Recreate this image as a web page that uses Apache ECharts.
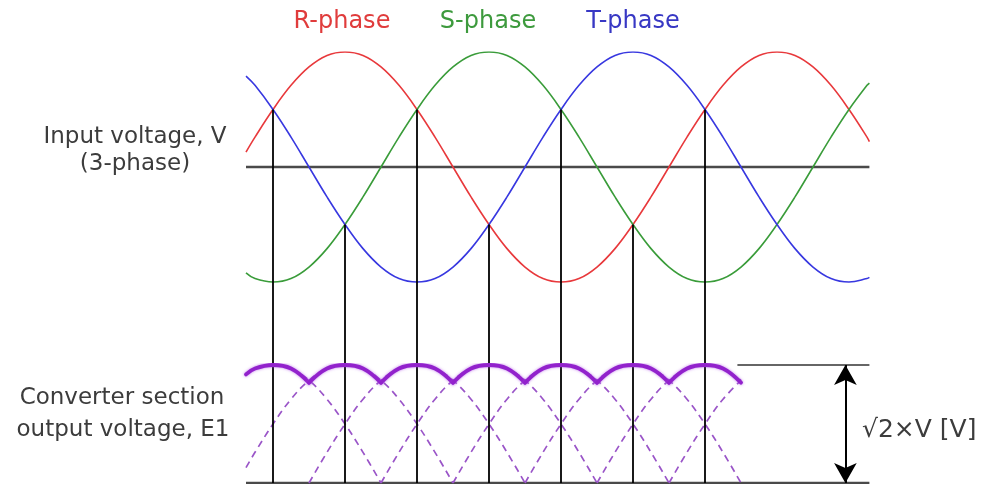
<!DOCTYPE html>
<html>
<head>
<meta charset="utf-8">
<script src="https://cdn.jsdelivr.net/npm/echarts@6/dist/echarts.min.js"></script>
<style>
html,body{margin:0;padding:0;background:#fff;}
#c{width:990px;height:484px;}
</style>
</head>
<body>
<div id="c"></div>
<script>
// ---- Input voltages (electrical degrees, normalised amplitude) ----
const phaseDeg = [7.5,15,30,45,60,75,90,105,120,135,150,165,180,195,210,225,240,255,270,285,300,315,330,345,360,375,390,405,420,435,450,465,480,495,510,525,527];
const rPhase = [0.13,0.26,0.50,0.71,0.87,0.97,1.00,0.97,0.87,0.71,0.50,0.26,0.00,-0.26,-0.50,-0.71,-0.87,-0.97,-1.00,-0.97,-0.87,-0.71,-0.50,-0.26,0.00,0.26,0.50,0.71,0.87,0.97,1.00,0.97,0.87,0.71,0.50,0.26,0.22];
const sPhase = [-0.92,-0.97,-1.00,-0.97,-0.87,-0.71,-0.50,-0.26,0.00,0.26,0.50,0.71,0.87,0.97,1.00,0.97,0.87,0.71,0.50,0.26,0.00,-0.26,-0.50,-0.71,-0.87,-0.97,-1.00,-0.97,-0.87,-0.71,-0.50,-0.26,0.00,0.26,0.50,0.71,0.73];
const tPhase = [0.79,0.71,0.50,0.26,0.00,-0.26,-0.50,-0.71,-0.87,-0.97,-1.00,-0.97,-0.87,-0.71,-0.50,-0.26,0.00,0.26,0.50,0.71,0.87,0.97,1.00,0.97,0.87,0.71,0.50,0.26,0.00,-0.26,-0.50,-0.71,-0.87,-0.97,-1.00,-0.97,-0.96];

// phase crossing points (degrees, level) -> vertical guide lines
const crossDeg = [30,90,150,210,270,330,390];
const crossLevel = [0.5,-0.5,0.5,-0.5,0.5,-0.5,0.5];

// ---- Converter output (rectified) ----
const outDeg = [7.5,15,30,45,60,75,90,105,120,135,150,165,180,195,210,225,240,255,270,285,300,315,330,345,360,375,390,405,420];
const arch1 = [0.92,0.97,1.00,0.97,0.87,0.71,0.50,0.26,0.00,null,null,null,null,null,null,null,null,null,null,null,null,null,null,null,null,null,null,null,null];
const arch2 = [0.13,0.26,0.50,0.71,0.87,0.97,1.00,0.97,0.87,0.71,0.50,0.26,0.00,null,null,null,null,null,null,null,null,null,null,null,null,null,null,null,null];
const arch3 = [null,null,null,null,0.00,0.26,0.50,0.71,0.87,0.97,1.00,0.97,0.87,0.71,0.50,0.26,0.00,null,null,null,null,null,null,null,null,null,null,null,null];
const arch4 = [null,null,null,null,null,null,null,null,0.00,0.26,0.50,0.71,0.87,0.97,1.00,0.97,0.87,0.71,0.50,0.26,0.00,null,null,null,null,null,null,null,null];
const arch5 = [null,null,null,null,null,null,null,null,null,null,null,null,0.00,0.26,0.50,0.71,0.87,0.97,1.00,0.97,0.87,0.71,0.50,0.26,0.00,null,null,null,null];
const arch6 = [null,null,null,null,null,null,null,null,null,null,null,null,null,null,null,null,0.00,0.26,0.50,0.71,0.87,0.97,1.00,0.97,0.87,0.71,0.50,0.26,0.00];
const arch7 = [null,null,null,null,null,null,null,null,null,null,null,null,null,null,null,null,null,null,null,null,0.00,0.26,0.50,0.71,0.87,0.97,1.00,0.97,0.87];
const arch8 = [null,null,null,null,null,null,null,null,null,null,null,null,null,null,null,null,null,null,null,null,null,null,null,null,0.00,0.26,0.50,0.71,0.87];
const envelope = [0.92,0.97,1.00,0.97,0.85,0.97,1.00,0.97,0.85,0.97,1.00,0.97,0.85,0.97,1.00,0.97,0.85,0.97,1.00,0.97,0.85,0.97,1.00,0.97,0.85,0.97,1.00,0.97,0.85];

// DC level reference (degrees) and arrow position
const refSpan = [417, 527];
const arrowDeg = 507;

// ---- text ----
const phaseNames = ['R-phase','S-phase','T-phase'];
const inputLabel = ['Input voltage, V','(3-phase)'];
const outputLabel = ['Converter section','output voltage, E1'];
const dcLabel = '\u221A2\u00D7V [V]';

// ---- layout / style ----
const BASE = -2.748;
const FONT = 'DejaVu Sans';
const colors = ['#e8393c','#3a9c3a','#3838e0'];
const textColors = ['#e03c3c','#3d9a3d','#3838c4'];
const purple = '#9222cc';
const dashPurple = '#9a55c8';

const pairs = (xs, ys) => xs.map((x,i)=>[x, ys[i]]);

const series = [];
[rPhase, sPhase, tPhase].forEach((arr, k) => {
  series.push({type:'line', xAxisIndex:0, yAxisIndex:0, data: pairs(phaseDeg, arr), smooth:0.4,
    showSymbol:false, symbol:'none', lineStyle:{color:colors[k], width:1.6}, silent:true, z:3});
});
series.push({type:'line', xAxisIndex:0, yAxisIndex:0,
  data:[[phaseDeg[0],0],[phaseDeg[phaseDeg.length-1],0]], symbol:'none',
  lineStyle:{color:'#4a4a4a', width:2.4}, silent:true, z:2,
  markLine:{silent:true, symbol:'none', label:{show:false}, animation:false,
    lineStyle:{color:'#000', width:1.8, type:'solid'},
    data: crossDeg.map((d,i)=>[{coord:[d, crossLevel[i]]},{coord:[d, BASE]}])}
});

[arch1,arch2,arch3,arch4,arch5,arch6,arch7,arch8].forEach(arr => {
  series.push({type:'line', xAxisIndex:1, yAxisIndex:1, data: pairs(outDeg, arr), smooth:0.4,
    connectNulls:false, symbol:'none', lineStyle:{color:dashPurple, width:1.7, type:[7,5]}, silent:true, z:3});
});
// envelope split at its cusps
const cuts = [0];
for (let i=1;i<envelope.length-1;i++) if (envelope[i]<envelope[i-1] && envelope[i]<envelope[i+1]) cuts.push(i);
cuts.push(envelope.length-1);
for (let c=0;c<cuts.length-1;c++) {
  const d = [];
  for (let i=cuts[c]; i<=cuts[c+1]; i++) d.push([outDeg[i], envelope[i]]);
  series.push({type:'line', xAxisIndex:1, yAxisIndex:1, data:d, smooth:0.4, symbol:'none',
    lineStyle:{color:purple, width:3.8, shadowBlur:3, shadowColor:'rgba(170,70,230,0.7)', cap:'round'}, silent:true, z:5});
}
series.push({type:'line', xAxisIndex:1, yAxisIndex:1,
  data:[[outDeg[0],0],[refSpan[1],0]], symbol:'none', lineStyle:{color:'#4a4a4a', width:2.6}, silent:true, z:2});
series.push({type:'line', xAxisIndex:1, yAxisIndex:1,
  data:[[refSpan[0],1],[refSpan[1],1]], symbol:'none', lineStyle:{color:'#666', width:2.2}, silent:true, z:2,
  markLine:{silent:true, symbol:['arrow','arrow'], symbolSize:[17,20], label:{show:false}, animation:false,
    lineStyle:{color:'#000', width:2, type:'solid'},
    data:[[{coord:[arrowDeg,1]},{coord:[arrowDeg,0]}]]}
});

const txt = (s, x, y, color, align, size) => ({type:'text', x, y, silent:true,
  style:{text:s, fill:color, font:(size||23) + 'px "' + FONT + '"', textAlign:align||'center', textVerticalAlign:'middle'}});

const chart = echarts.init(document.getElementById('c'), null, {renderer:'canvas'});
chart.setOption({
  animation:false,
  backgroundColor:'#fff',
  grid:[
    {left:237, width:648, top:52, height:431},
    {left:237, width:648, top:365, height:118}
  ],
  xAxis:[
    {type:'value', gridIndex:0, min:0, max:540, show:false},
    {type:'value', gridIndex:1, min:0, max:540, show:false}
  ],
  yAxis:[
    {type:'value', gridIndex:0, min:BASE, max:1, show:false},
    {type:'value', gridIndex:1, min:0, max:1, show:false}
  ],
  series,
  graphic:[
    txt(phaseNames[0], 342, 22, textColors[0], 'center', 24),
    txt(phaseNames[1], 488, 22, textColors[1], 'center', 24),
    txt(phaseNames[2], 633, 22, textColors[2], 'center', 24),
    txt(inputLabel[0], 135, 137, '#3c3c3c'),
    txt(inputLabel[1], 135, 164, '#3c3c3c'),
    txt(outputLabel[0], 122, 398, '#3c3c3c'),
    txt(outputLabel[1], 123, 430, '#3c3c3c'),
    txt(dcLabel, 862, 430, '#3c3c3c', 'left', 25)
  ]
});
</script>
</body>
</html>
